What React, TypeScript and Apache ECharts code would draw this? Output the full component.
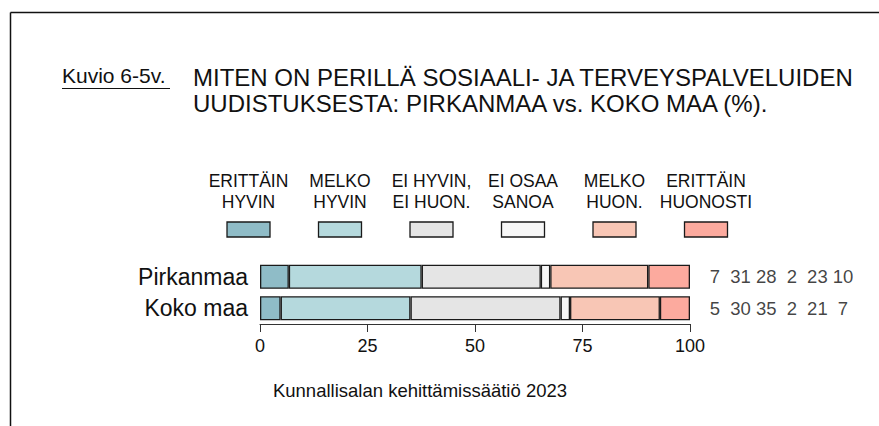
import React, { useEffect, useRef } from "react";
import * as echarts from "echarts";

const categories = ["Pirkanmaa", "Koko maa"];
const responseLabels = [
  "ERITTÄIN\nHYVIN",
  "MELKO\nHYVIN",
  "EI HYVIN,\nEI HUON.",
  "EI OSAA\nSANOA",
  "MELKO\nHUON.",
  "ERITTÄIN\nHUONOSTI",
];
const pirkanmaaShares = [6.7, 30.9, 27.7, 2.2, 22.8, 9.7];
const kokoMaaShares = [4.8, 30.2, 34.9, 2.2, 20.9, 7.0];
const pirkanmaaLabels = [7, 31, 28, 2, 23, 10];
const kokoMaaLabels = [5, 30, 35, 2, 21, 7];
const xTicks = [0, 25, 50, 75, 100];
const colors = ["#8fbcc7", "#b5d9dd", "#e5e5e5", "#f7f7f7", "#f8c6b5", "#fcaa9e"];

const FONT = "'Liberation Sans', Arial, sans-serif";

export default function App() {
  const ref = useRef<HTMLDivElement>(null);
  useEffect(() => {
    if (!ref.current) return;
    const chart = echarts.init(ref.current, null, { renderer: "svg" });

    const barSeries = responseLabels.map((name, i) => ({
      type: "bar",
      name: name.replace("\n", " "),
      stack: "total",
      barWidth: 24,
      xAxisIndex: 0,
      yAxisIndex: 0,
      data: [pirkanmaaShares[i], kokoMaaShares[i]],
      itemStyle: { color: colors[i], borderColor: "#1a1a1a", borderWidth: 1.3 },
      silent: true,
    }));

    const labelData: number[][] = [];
    [pirkanmaaLabels, kokoMaaLabels].forEach((row, r) =>
      row.forEach((v, c) => labelData.push([c, r, v]))
    );

    const legendGraphics: any[] = [];
    responseLabels.forEach((lab, i) => {
      const cx = 248.5 + i * 91.5;
      legendGraphics.push({
        type: "text",
        x: cx,
        y: 191,
        style: {
          text: lab,
          fill: "#111",
          font: `17.5px ${FONT}`,
          textAlign: "center",
          textVerticalAlign: "middle",
          lineHeight: 21,
        },
      });
      legendGraphics.push({
        type: "rect",
        shape: { x: cx - 21.5, y: 222, width: 43, height: 15 },
        style: { fill: colors[i], stroke: "#1a1a1a", lineWidth: 1.3 },
      });
    });

    chart.setOption({
      animation: false,
      title: [
        {
          text: "Kuvio 6-5v.",
          left: 62,
          top: 65,
          padding: 0,
          textStyle: { fontFamily: FONT, fontSize: 21, fontWeight: "normal", color: "#111" },
        },
        {
          text: "MITEN ON PERILLÄ SOSIAALI- JA TERVEYSPALVELUIDEN\nUUDISTUKSESTA: PIRKANMAA vs. KOKO MAA (%).",
          left: 193,
          top: 64,
          padding: 0,
          textStyle: {
            fontFamily: FONT,
            fontSize: 24,
            lineHeight: 26,
            fontWeight: "normal",
            color: "#111",
          },
        },
      ],
      grid: [
        { left: 260, right: 189, top: 261, height: 63 },
        { left: 702.2, width: 153.6, top: 261, height: 63 },
      ],
      xAxis: [
        {
          type: "value",
          gridIndex: 0,
          min: 0,
          max: 100,
          interval: 25,
          axisLine: { show: true, lineStyle: { color: "#333", width: 1 } },
          axisTick: { show: true, length: 8, lineStyle: { color: "#333" } },
          splitLine: { show: false },
          axisLabel: {
            fontFamily: FONT,
            fontSize: 18,
            color: "#111",
            margin: 13,
            formatter: (v: number) => (xTicks.includes(v) ? String(v) : ""),
          },
        },
        {
          type: "category",
          gridIndex: 1,
          data: [0, 1, 2, 3, 4, 5],
          show: false,
        },
      ],
      yAxis: [
        {
          type: "category",
          gridIndex: 0,
          inverse: true,
          data: categories,
          axisLine: { show: false },
          axisTick: { show: false },
          axisLabel: { fontFamily: FONT, fontSize: 23, color: "#111", margin: 12 },
        },
        {
          type: "category",
          gridIndex: 1,
          inverse: true,
          data: categories,
          show: false,
        },
      ],
      series: [
        ...barSeries,
        {
          type: "scatter",
          xAxisIndex: 1,
          yAxisIndex: 1,
          symbolSize: 0.001,
          itemStyle: { color: "transparent" },
          silent: true,
          data: labelData,
          label: {
            show: true,
            position: "inside",
            formatter: (p: any) => String(p.value[2]),
            fontFamily: FONT,
            fontSize: 18.5,
            color: "#111",
          },
        },
      ],
      graphic: [
        {
          type: "line",
          shape: { x1: 10.5, y1: 12.5, x2: 879, y2: 12.5 },
          style: { stroke: "#111", lineWidth: 1.5 },
        },
        {
          type: "line",
          shape: { x1: 10.5, y1: 12.5, x2: 10.5, y2: 426 },
          style: { stroke: "#111", lineWidth: 1.5 },
        },
        {
          type: "line",
          shape: { x1: 62, y1: 88.5, x2: 170, y2: 88.5 },
          style: { stroke: "#111", lineWidth: 1.2 },
        },
        ...legendGraphics,
        {
          type: "text",
          x: 420,
          y: 390,
          style: {
            text: "Kunnallisalan kehittämissäätiö 2023",
            fill: "#111",
            font: `18.5px ${FONT}`,
            textAlign: "center",
            textVerticalAlign: "middle",
          },
        },
      ],
    });
    return () => chart.dispose();
  }, []);
  return (
    <div
      ref={ref}
      style={{ position: "absolute", left: 0, top: 0, width: 879, height: 426, background: "#fff" }}
    />
  );
}
